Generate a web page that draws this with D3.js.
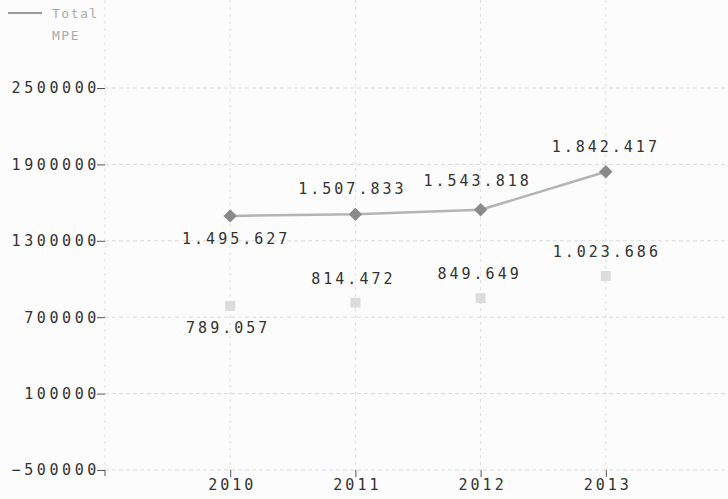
<!DOCTYPE html>
<html><head><meta charset="utf-8">
<script src="https://cdn.jsdelivr.net/npm/d3@7"></script>
<style>
html,body{margin:0;padding:0;background:#fcfcfc;}
svg{display:block;}
text{font-family:"DejaVu Sans Mono","Liberation Mono",monospace;}
</style></head>
<body>
<svg id="chart" width="728" height="499"></svg>
<script>
const years = [2010, 2011, 2012, 2013];
const totalValues = [1495627, 1507833, 1543818, 1842417];
const mpeValues = [789057, 814472, 849649, 1023686];
const totalLabels = ["1.495.627", "1.507.833", "1.543.818", "1.842.417"];
const mpeLabels = ["789.057", "814.472", "849.649", "1.023.686"];
const yTicks = [-500000, 100000, 700000, 1300000, 1900000, 2500000];
const legendLines = ["Total", "MPE"];

const svg = d3.select("#chart");
const x = d3.scaleLinear().domain([2009, 2014]).range([105, 731]);
const y = d3.scaleLinear().domain([-500000, 2500000]).range([470, 88]);

// gridlines
const grid = svg.append("g");
grid.selectAll("line.h").data(yTicks).join("line")
  .attr("x1", 105).attr("x2", 728)
  .attr("y1", d => y(d)).attr("y2", d => y(d))
  .attr("stroke", "#dadada").attr("stroke-width", 1).attr("stroke-dasharray", "4,3");
grid.selectAll("line.v").data(years).join("line")
  .attr("x1", d => x(d)).attr("x2", d => x(d))
  .attr("y1", 0).attr("y2", 470)
  .attr("stroke", "#dedede").attr("stroke-width", 1).attr("stroke-dasharray", "3,4");
grid.append("line").attr("x1", 105).attr("x2", 105).attr("y1", 0).attr("y2", 470)
  .attr("stroke", "#e2e2e2").attr("stroke-dasharray", "3,4");

// y axis
const yAxis = svg.append("g").attr("transform", "translate(105,0)")
  .call(d3.axisLeft(y).tickValues(yTicks).tickFormat(d3.format("d")).tickSize(8).tickPadding(0));
yAxis.select(".domain").remove();
yAxis.selectAll("line").attr("stroke", "#555");
yAxis.selectAll("text").attr("font-size", 15).attr("fill", "#333")
  .attr("letter-spacing", "3.6px").attr("dx", "3px");

// x axis
const xAxis = svg.append("g").attr("transform", "translate(0,470)")
  .call(d3.axisBottom(x).tickValues(years).tickFormat(d3.format("d")).tickSize(7).tickPadding(2));
xAxis.select(".domain").remove();
xAxis.selectAll("line").attr("stroke", "#555");
xAxis.selectAll("text").attr("font-size", 15).attr("fill", "#333").attr("letter-spacing", "3px").attr("dx", "1.5px");
// corner tick at axis origin
svg.append("line").attr("x1", 105).attr("x2", 105).attr("y1", 470).attr("y2", 476).attr("stroke", "#555");

// MPE squares
svg.selectAll("rect.mpe").data(mpeValues).join("rect")
  .attr("x", (d, i) => x(years[i]) - 5).attr("y", d => y(d) - 5)
  .attr("width", 10).attr("height", 10)
  .attr("fill", "#dcdcdc");

// Total line
const line = d3.line().x((d, i) => x(years[i])).y(d => y(d));
svg.append("path").datum(totalValues).attr("d", line)
  .attr("fill", "none").attr("stroke", "#b4b4b4").attr("stroke-width", 2.5);
svg.selectAll("path.dia").data(totalValues).join("path")
  .attr("d", d3.symbol(d3.symbolSquare, 90))
  .attr("transform", (d, i) => `translate(${x(years[i])},${y(d)}) rotate(45)`)
  .attr("fill", "#8a8a8a");

// labels
const totalOffsets = [[6, 28], [-3, -20], [-3, -24], [0, -20]];
svg.selectAll("text.tl").data(totalValues).join("text")
  .attr("x", (d, i) => x(years[i]) + totalOffsets[i][0])
  .attr("y", (d, i) => y(d) + totalOffsets[i][1])
  .attr("text-anchor", "middle").attr("font-size", 15).attr("fill", "#333")
  .attr("letter-spacing", "3px")
  .text((d, i) => totalLabels[i]);
const mpeOffsets = [[-2, 27], [-2, -19], [-1, -19], [1, -19]];
svg.selectAll("text.ml").data(mpeValues).join("text")
  .attr("x", (d, i) => x(years[i]) + mpeOffsets[i][0])
  .attr("y", (d, i) => y(d) + mpeOffsets[i][1])
  .attr("text-anchor", "middle").attr("font-size", 15).attr("fill", "#333")
  .attr("letter-spacing", "3px")
  .text((d, i) => mpeLabels[i]);

// legend
svg.append("line").attr("x1", 8).attr("x2", 42).attr("y1", 13).attr("y2", 13)
  .attr("stroke", "#999").attr("stroke-width", 2);
svg.selectAll("text.lg").data(legendLines).join("text")
  .attr("x", 52).attr("y", (d, i) => 18 + i * 22)
  .attr("font-size", 13).attr("fill", "#aaa").attr("letter-spacing", "1.5px")
  .text(d => d);
</script>
</body></html>
